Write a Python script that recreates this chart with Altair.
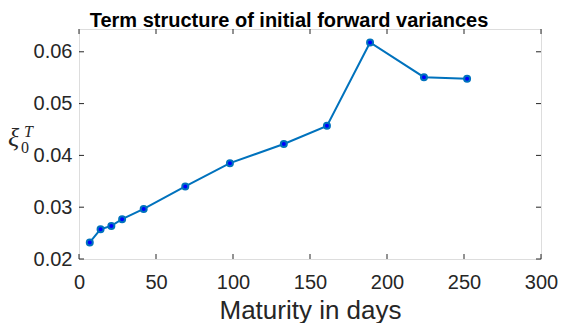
import altair as alt
import pandas as pd

days = [7, 14, 21, 28, 42, 69, 98, 133, 161, 189, 224, 252]
xi0 = [0.0232, 0.02575, 0.02638, 0.02768, 0.02967, 0.0340, 0.0385, 0.0422,
       0.0457, 0.0618, 0.0551, 0.0548]
x_ticks = [0, 50, 100, 150, 200, 250, 300]
y_ticks = [0.02, 0.03, 0.04, 0.05, 0.06]
title_text = "Term structure of initial forward variances"
x_title = "Maturity in days"

W, H = 462, 230
FONT = "Liberation Sans"
INK = "#262626"

df = pd.DataFrame({"day": days, "xi": xi0})
xt = pd.DataFrame({"v": x_ticks})
yt = pd.DataFrame({"v": y_ticks})

xscale = alt.Scale(domain=[0, 300], nice=False, zero=False)
yscale = alt.Scale(domain=[0.02, 0.0644], nice=False, zero=False)

xaxis = alt.Axis(values=x_ticks, format="d", grid=False, domain=False, ticks=False,
                 labelFlush=False, labelOverlap=False,
                 labelFontSize=20, labelFont=FONT, labelColor=INK, labelPadding=13,
                 title=x_title, titleFont=FONT, titleFontSize=26, titleFontWeight="normal",
                 titleColor=INK, titlePadding=5)
yaxis = alt.Axis(values=y_ticks, format=".2f", grid=False, domain=False, ticks=False,
                 labelFlush=False, labelOverlap=False,
                 labelFontSize=20, labelFont=FONT, labelColor=INK, labelPadding=7,
                 title=None)

line = alt.Chart(df).mark_line(color="#0072BD", strokeWidth=2).encode(
    x=alt.X("day:Q", scale=xscale, axis=xaxis),
    y=alt.Y("xi:Q", scale=yscale, axis=yaxis),
)
pts = alt.Chart(df).mark_point(filled=True, fill="#0000FF", stroke="#0072BD",
                               strokeWidth=2, size=36, opacity=1).encode(
    x=alt.X("day:Q", scale=xscale),
    y=alt.Y("xi:Q", scale=yscale),
)

xtick_b = alt.Chart(xt).mark_rule(color=INK, strokeWidth=1).encode(
    x=alt.X("v:Q", scale=xscale), y=alt.value(H), y2=alt.value(H - 5))
xtick_t = alt.Chart(xt).mark_rule(color=INK, strokeWidth=1).encode(
    x=alt.X("v:Q", scale=xscale), y=alt.value(0), y2=alt.value(5))
ytick_l = alt.Chart(yt).mark_rule(color=INK, strokeWidth=1).encode(
    y=alt.Y("v:Q", scale=yscale), x=alt.value(0), x2=alt.value(5))
ytick_r = alt.Chart(yt).mark_rule(color=INK, strokeWidth=1).encode(
    y=alt.Y("v:Q", scale=yscale), x=alt.value(W), x2=alt.value(W - 5))

title = alt.Chart(pd.DataFrame({"t": [title_text]})).mark_text(
    font=FONT, fontSize=20, fontWeight="bold", color="black", align="center",
    baseline="alphabetic", dx=-21).encode(
    text="t:N", x=alt.value(W / 2), y=alt.value(-2))

xi_txt = alt.Chart(pd.DataFrame({"t": ["ξ"]})).mark_text(
    font="Liberation Serif", fontStyle="italic", fontSize=26, color=INK,
    align="left", baseline="alphabetic").encode(
    text="t:N", x=alt.value(-71), y=alt.value(117))
sub_txt = alt.Chart(pd.DataFrame({"t": ["0"]})).mark_text(
    font="Liberation Serif", fontSize=16, color=INK, align="left",
    baseline="alphabetic").encode(text="t:N", x=alt.value(-58), y=alt.value(124))
sup_txt = alt.Chart(pd.DataFrame({"t": ["T"]})).mark_text(
    font="Liberation Serif", fontStyle="italic", fontSize=16, color=INK,
    align="left", baseline="alphabetic").encode(
    text="t:N", x=alt.value(-55), y=alt.value(108))

chart = alt.layer(line, pts, xtick_b, xtick_t, ytick_l, ytick_r, title,
                  xi_txt, sub_txt, sup_txt).properties(
    width=W, height=H,
    autosize=alt.AutoSizeParams(type="none"),
    padding={"left": 71, "top": 21, "right": 17, "bottom": 64},
).configure_view(stroke="#808080", strokeWidth=1).configure(background="white")

chart.save("out.html", embed_options={"renderer": "svg", "actions": False})
